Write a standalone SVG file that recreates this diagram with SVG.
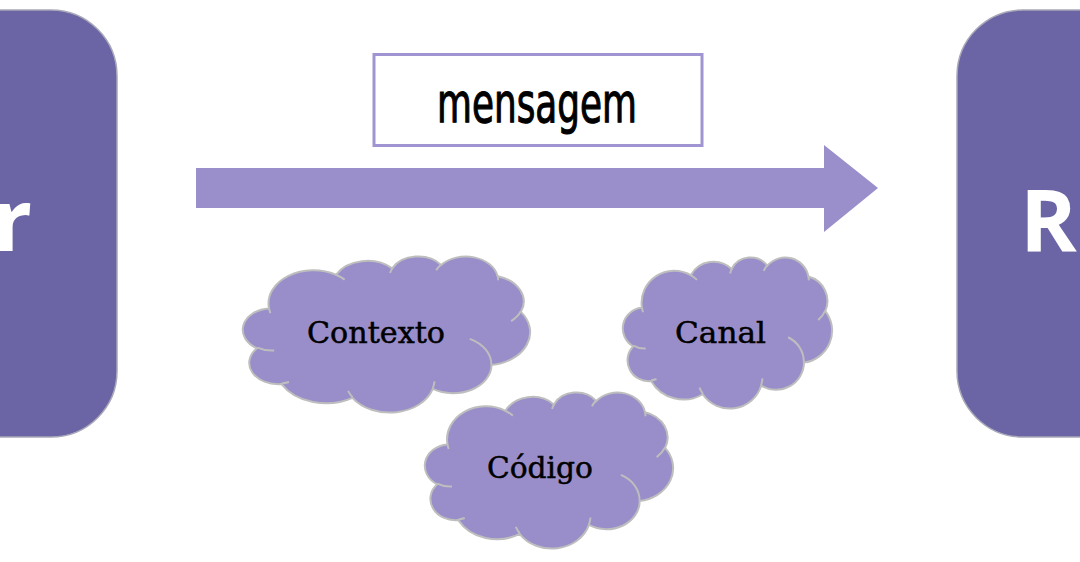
<svg xmlns="http://www.w3.org/2000/svg" xmlns:xlink="http://www.w3.org/1999/xlink" width="1080" height="562" viewBox="0 0 1080 562">
<style>
.box{fill:#6B65A5;stroke:#A8A8B8;stroke-width:1.5}
.big{font-family:"Open Sans","Liberation Sans",sans-serif;font-weight:700;font-size:86px;fill:#FFFFFF}
.cloud{fill:#998ECA;stroke:#BEBEBE;stroke-width:2;vector-effect:non-scaling-stroke}
.cloudline{fill:none;stroke:#BEBEBE;stroke-width:2;vector-effect:non-scaling-stroke}
.ct{font-family:"DejaVu Serif","Liberation Serif",serif;font-size:30px;fill:#000000;stroke:#000000;stroke-width:0.5}
.msg{font-family:"DejaVu Sans Condensed","DejaVu Sans",sans-serif;font-stretch:condensed;font-size:55px;fill:#000000;stroke:#000000;stroke-width:1.1}
</style>
<defs>
<g id="cloudShape">
<path class="cloud" d="M39.00 143.70 A67.53 91.90 0 0 1 140.05 52.02 A53.33 72.67 0 0 1 224.58 34.36 A43.65 59.45 0 0 1 298.35 24.85 A48.57 65.95 0 0 1 383.19 55.82 A53.33 72.73 0 0 1 418.19 154.66 A67.75 92.20 0 0 1 374.05 302.09 A57.85 78.67 0 0 1 285.56 368.19 A67.52 92.15 0 0 1 164.80 392.69 A77.20 105.43 0 0 1 58.03 354.74 A43.60 59.18 0 0 1 21.13 255.51 A43.45 59.45 0 0 1 38.63 145.07 Z"/>
<path class="cloudline" d="M46.93 261.77 A43.45 59.45 0 0 1 21.59 253.80 M69.28 348.99 A43.60 59.18 0 0 1 58.20 352.80 M164.78 390.90 A67.52 92.15 0 0 1 158.10 373.51 M288.27 347.51 A67.52 92.15 0 0 1 285.60 366.60 M341.29 229.54 A57.85 78.67 0 0 1 373.80 300.90 M417.98 153.54 A53.33 72.73 0 0 1 403.49 180.31 M383.24 54.26 A48.57 65.95 0 0 1 384.00 66.89 M290.78 39.52 A48.57 65.95 0 0 1 298.21 23.39 M221.41 47.20 A43.65 59.45 0 0 1 225.01 33.29 M140.00 51.92 A67.53 91.90 0 0 1 153.02 65.43 M41.27 157.89 A67.53 91.90 0 0 1 39.00 143.70"/>
</g>
</defs>
<rect width="1080" height="562" fill="#FFFFFF"/>

<g id="emissor">
<rect class="box" x="-80" y="10" width="197" height="427" rx="66" ry="66"/>
<text class="big" x="32" y="251" text-anchor="end">r</text>
</g>

<g id="receptor">
<rect class="box" x="957" y="10" width="200" height="427" rx="66" ry="66"/>
<text class="big" x="1020" y="252">R</text>
</g>

<g id="connectors">
<path d="M196 168 H824 V145 L878 188 L824 232 V208 H196 Z" fill="#9A8FCB"/>
</g>

<g id="mensagem">
<rect x="374" y="54.5" width="328" height="91" fill="#FFFFFF" stroke="#A094D2" stroke-width="3"/>
<text class="msg" x="437" y="122" textLength="200" lengthAdjust="spacingAndGlyphs">mensagem</text>
</g>

<g id="contexto">
<use xlink:href="#cloudShape" href="#cloudShape" transform="translate(243 256) scale(0.6644 0.3611)"/>
<text class="ct" x="307" y="343" textLength="138" lengthAdjust="spacingAndGlyphs">Contexto</text>
</g>

<g id="canal">
<use xlink:href="#cloudShape" href="#cloudShape" transform="translate(623 257) scale(0.4838 0.3495)"/>
<text class="ct" x="675" y="343" textLength="91" lengthAdjust="spacingAndGlyphs">Canal</text>
</g>

<g id="codigo">
<use xlink:href="#cloudShape" href="#cloudShape" transform="translate(425 392) scale(0.5741 0.3611)"/>
<text class="ct" x="487" y="478" textLength="106" lengthAdjust="spacingAndGlyphs">Código</text>
</g>
</svg>
